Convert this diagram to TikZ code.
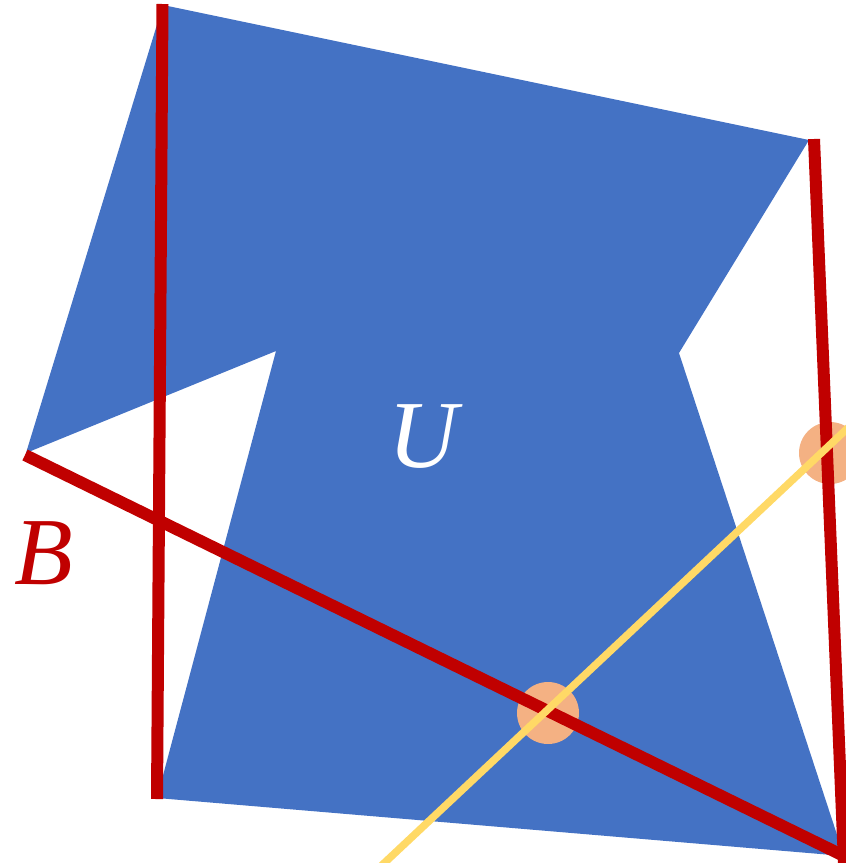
\documentclass[tikz,border=0pt]{standalone}
\usepackage{fontspec}
\setmainfont{Liberation Serif}
\definecolor{ublue}{HTML}{4472C4}
\definecolor{bred}{HTML}{C00000}
\definecolor{lyel}{HTML}{FFD966}
\definecolor{lorg}{HTML}{F4B183}
\tikzset{
  redline/.style={draw=bred, line width=12pt, line cap=butt},
  yelline/.style={draw=lyel, line width=7.5pt},
  dot/.style={circle, fill=lorg, minimum size=62pt, inner sep=0pt},
  lbl/.style={font=\fontsize{96}{96}\selectfont\itshape}
}
\begin{document}
\begin{tikzpicture}[x=1pt,y=-1pt]
\useasboundingbox (0,0) rectangle (846,863);
\clip (0,0) rectangle (846,863);
% blue region
\fill[ublue] (163,5) -- (809,140) -- (679,353) -- (844,856) -- (157,798) -- (276,351) -- (26,453) -- cycle;
% coordinates
\coordinate (tl) at (162.5,4);
\coordinate (bl) at (157,799);
\coordinate (lp) at (25,455);
\coordinate (br) at (846,857);
\coordinate (tr) at (814,139);
\coordinate (rb) at (844,863);
\coordinate (y1) at (380,867);
\coordinate (y2) at (850,426);
% dots
\node[dot] (d1) at (548,713) {};
\node[dot] (d2) at (830,453) {};
% red lines
\draw[redline] (tl) -- (bl);
\draw[redline] (lp) -- (br);
\draw[redline] (tr) -- (rb);
% yellow line
\draw[yelline] (y1) -- (y2);
% labels
\node[lbl, text=white] (U) at (423,437) {U};
\node[lbl, text=bred] (B) at (44,553) {B};
\end{tikzpicture}
\end{document}
